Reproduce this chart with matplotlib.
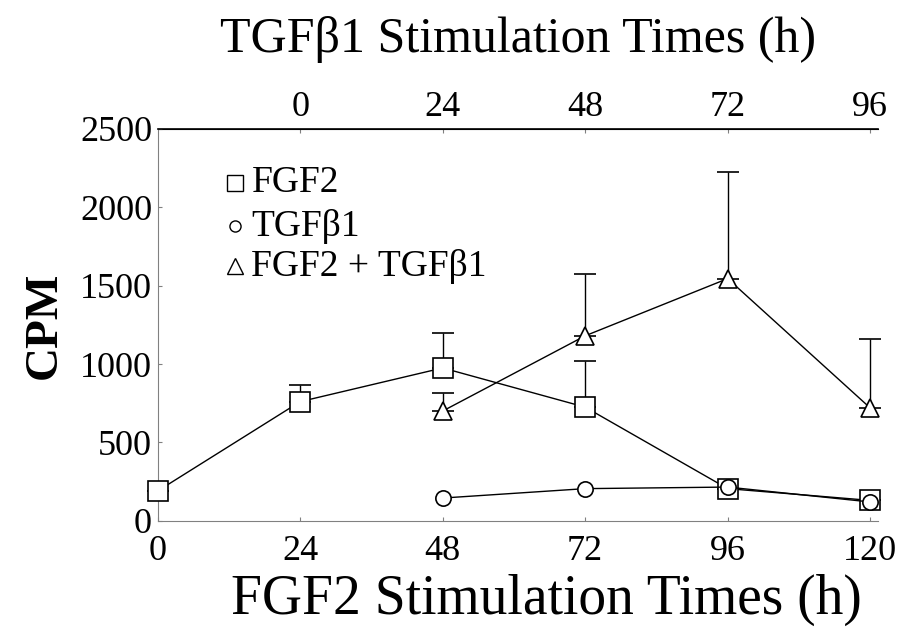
import matplotlib.pyplot as plt
import numpy as np

plt.rcParams['font.family'] = ['Liberation Serif', 'DejaVu Serif']

# FGF2 stimulation times (h)
x_fgf2 = [0, 24, 48, 72, 96, 120]
y_fgf2 = [190, 760, 975, 725, 205, 130]
err_fgf2 = [0, 105, 220, 295, 0, 0]

x_tgf = [48, 72, 96, 120]
y_tgf = [145, 205, 215, 120]

x_both = [48, 72, 96, 120]
y_both = [700, 1180, 1545, 720]
err_both = [115, 395, 680, 440]

bottom_ticks = [0, 24, 48, 72, 96, 120]
top_ticks = [0, 24, 48, 72, 96]
y_ticks = [0, 500, 1000, 1500, 2000, 2500]

fig = plt.figure(figsize=(9.01, 6.32), dpi=100)
ax = fig.add_axes([0.175, 0.176, 0.80, 0.62])

mk = dict(color='black', mfc='white', mec='black', lw=1.0, mew=1.2, clip_on=False)
ax.errorbar(x_fgf2, y_fgf2, yerr=[np.zeros(6), err_fgf2], fmt='-s', ms=14,
            capsize=8, elinewidth=1.0, capthick=1.5, zorder=3, **mk)
ax.errorbar(x_tgf, y_tgf, fmt='-o', ms=11, zorder=4, **mk)
ax.errorbar(x_both, y_both, yerr=[np.zeros(4), err_both], fmt='-^', ms=13,
            capsize=8, elinewidth=1.0, capthick=1.5, zorder=3, **mk)

ax.set_xlim(0, 121.4)
ax.set_ylim(0, 2500)
ax.set_xticks(bottom_ticks)
ax.set_yticks(y_ticks)
ax.tick_params(labelsize=26, direction='in', length=3, color='gray')
ax.tick_params(axis='x', pad=10)
ax.tick_params(axis='y', pad=4)
ax.spines['right'].set_visible(False)
ax.spines['left'].set_color('gray')
ax.spines['left'].set_linewidth(0.8)
ax.spines['bottom'].set_color('gray')
ax.spines['top'].set_linewidth(1.2)

ax.set_xlabel('FGF2 Stimulation Times (h)', fontsize=40, labelpad=8)
ax.xaxis.set_label_coords(0.54, -0.135)
ax.set_ylabel('CPM', fontsize=34, fontweight='bold', labelpad=10)

top = ax.secondary_xaxis('top', functions=(lambda v: v - 24, lambda v: v + 24))
top.set_xticks(top_ticks)
top.tick_params(labelsize=26, direction='in', length=3, color='gray')
top.set_xlabel('TGF\u03b21 Stimulation Times (h)', fontsize=36, labelpad=28)

# legend
lx = 13
rows = [2156, 1880, 1625]
ax.plot(lx, rows[0], 's', ms=11, mfc='white', mec='black', mew=1.0)
ax.plot(lx, rows[1], 'o', ms=8, mfc='white', mec='black', mew=1.0)
ax.plot(lx, rows[2], '^', ms=11, mfc='white', mec='black', mew=1.0)
ax.text(lx + 2.8, rows[0], 'FGF2', fontsize=27, va='center')
ax.text(lx + 2.8, rows[1], 'TGF\u03b21', fontsize=27, va='center')
ax.text(lx + 2.8, rows[2], 'FGF2 + TGF\u03b21', fontsize=27, va='center')

fig.savefig('out.png', dpi=100)
